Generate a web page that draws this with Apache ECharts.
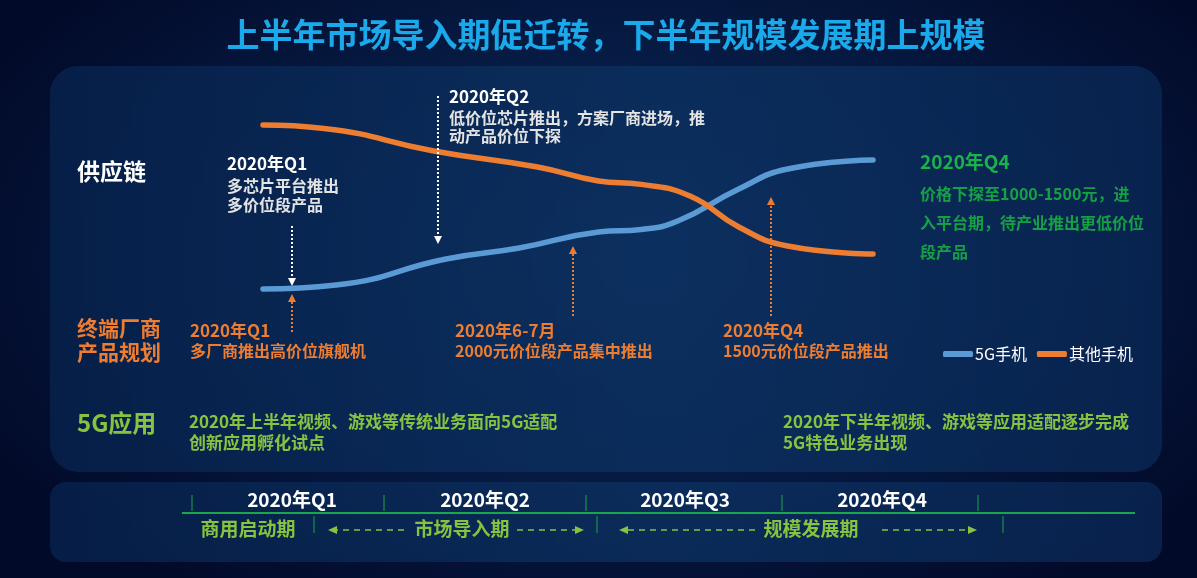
<!DOCTYPE html>
<html>
<head>
<meta charset="utf-8">
<script src="https://cdn.jsdelivr.net/npm/echarts@6/dist/echarts.min.js"></script>
<style>
  html, body { margin: 0; padding: 0; }
  body {
    width: 1197px; height: 578px; overflow: hidden;
    background: radial-gradient(ellipse 60% 70% at 52% 45%, #0b2b59 0%, #061a42 55%, #020a29 100%);
  }
  #chart { width: 1197px; height: 578px; }
</style>
</head>
<body>
<div id="chart"></div>
<script>
  // 曲线数据（横轴：时间进度 0-100，纵轴：相对份额 0-100）
  const seriesNames = ['5G手机', '其他手机']
  const phone5gX = [0, 12, 30, 42, 55, 62, 68, 78, 86, 100]
  const phone5gY = [5.5, 7.5, 20.5, 26, 34, 35.3, 39.5, 55.5, 65.5, 70]
  const otherX = [0, 10, 28, 45, 55, 62, 70, 78, 86, 100]
  const otherY = [87.5, 85.8, 74.5, 66.5, 59.5, 57.8, 52, 36.5, 27, 23]

  // 时间轴
  const quarterLabels = ['2020年Q1', '2020年Q2', '2020年Q3', '2020年Q4']
  const stageLabels = ['商用启动期', '市场导入期', '规模发展期']

  const FONT = '"Noto Sans CJK SC", "Noto Sans", sans-serif'
  const BLUE = '#5b9bd5'
  const ORANGE = '#ed7d31'
  const GREEN = '#86c440'

  function txt(x, y, text, color, size, align, weight) {
    return {
      type: 'text', x: x, y: y, z: 10,
      style: {
        text: text, fill: color, align: align || 'left', verticalAlign: 'middle',
        fontSize: size, fontWeight: weight || 'bold', fontFamily: FONT
      }
    }
  }

  // 竖直点线箭头
  function vArrow(x, y1, y2, color) {
    let dir = y2 > y1 ? 1 : -1
    return [
      {
        type: 'line', z: 5,
        shape: { x1: x, y1: y1, x2: x, y2: y2 - dir * 6 },
        style: { stroke: color, lineWidth: 2, lineDash: [2, 2] }
      },
      {
        type: 'polygon', z: 5,
        shape: { points: [[x - 4, y2 - dir * 8], [x + 4, y2 - dir * 8], [x, y2]] },
        style: { fill: color }
      }
    ]
  }

  // 水平虚线箭头
  function hArrow(x1, x2, y, color) {
    let dir = x2 > x1 ? 1 : -1
    return [
      {
        type: 'line', z: 5,
        shape: { x1: x1, y1: y, x2: x2 - dir * 6, y2: y },
        style: { stroke: color, lineWidth: 1.5, lineDash: [6, 5] }
      },
      {
        type: 'polygon', z: 5,
        shape: { points: [[x2 - dir * 9, y - 4], [x2 - dir * 9, y + 4], [x2, y]] },
        style: { fill: color }
      }
    ]
  }

  function vTick(x, y1, y2) {
    return {
      type: 'line', z: 5,
      shape: { x1: x, y1: y1, x2: x, y2: y2 },
      style: { stroke: '#1aa64a', lineWidth: 1 }
    }
  }

  let panelFill = function () {
    return new echarts.graphic.LinearGradient(0, 0, 1, 0, [
      { offset: 0, color: 'rgba(7,34,76,0.85)' },
      { offset: 0.55, color: 'rgba(13,50,98,0.75)' },
      { offset: 1, color: 'rgba(9,38,82,0.85)' }
    ])
  }

  let graphics = [
    // 主面板
    {
      type: 'rect', z: -10,
      shape: { x: 50, y: 66, width: 1112, height: 406, r: 28 },
      style: { fill: panelFill() }
    },
    // 底部时间轴面板
    {
      type: 'rect', z: -10,
      shape: { x: 50, y: 482, width: 1112, height: 80, r: 16 },
      style: { fill: panelFill() }
    },
    // 标题
    {
      type: 'text', x: 606, y: 34, z: 10,
      style: {
        text: '上半年市场导入期促迁转，下半年规模发展期上规模',
        fill: '#1aa9ea', align: 'center', verticalAlign: 'middle',
        fontSize: 33, fontWeight: 'bold', fontFamily: FONT,
        textShadowColor: 'rgba(0,0,0,0.6)', textShadowOffsetX: 2, textShadowOffsetY: 2
      }
    },

    // 左侧分类
    txt(77, 171, '供应链', '#ffffff', 23),
    txt(77, 328, '终端厂商', ORANGE, 21),
    txt(77, 352, '产品规划', ORANGE, 21),
    txt(77, 423, '5G应用', GREEN, 24),

    // 供应链
    txt(227, 164, '2020年Q1', '#ffffff', 17),
    txt(227, 186, '多芯片平台推出', '#e4e4e4', 16),
    txt(227, 205, '多价位段产品', '#e4e4e4', 16),
    txt(449, 97, '2020年Q2', '#ffffff', 17),
    txt(449, 118, '低价位芯片推出，方案厂商进场，推', '#e4e4e4', 16),
    txt(449, 136, '动产品价位下探', '#e4e4e4', 16),
    txt(920, 162, '2020年Q4', '#19b24b', 19),
    txt(920, 194, '价格下探至1000-1500元，进', '#16a046', 16),
    txt(920, 223, '入平台期，待产业推出更低价位', '#16a046', 16),
    txt(920, 252, '段产品', '#16a046', 16),

    // 终端厂商产品规划
    txt(190, 331, '2020年Q1', ORANGE, 17),
    txt(190, 351, '多厂商推出高价位旗舰机', ORANGE, 16),
    txt(455, 331, '2020年6-7月', ORANGE, 17),
    txt(455, 351, '2000元价位段产品集中推出', ORANGE, 16),
    txt(723, 331, '2020年Q4', ORANGE, 17),
    txt(723, 351, '1500元价位段产品推出', ORANGE, 16),

    // 5G应用
    txt(189, 422, '2020年上半年视频、游戏等传统业务面向5G适配', GREEN, 17),
    txt(189, 443, '创新应用孵化试点', GREEN, 17),
    txt(783, 422, '2020年下半年视频、游戏等应用适配逐步完成', GREEN, 17),
    txt(783, 443, '5G特色业务出现', GREEN, 17),

    // 时间轴
    {
      type: 'line', z: 5,
      shape: { x1: 182, y1: 513, x2: 1135, y2: 513 },
      style: { stroke: '#1aa64a', lineWidth: 2 }
    },
    vTick(192, 495, 511), vTick(384, 495, 511), vTick(586, 495, 511),
    vTick(782, 495, 511), vTick(978, 495, 511),
    vTick(314, 516, 533), vTick(597, 516, 533), vTick(1003, 516, 533),
    txt(292, 500, quarterLabels[0], '#ffffff', 19, 'center'),
    txt(485, 500, quarterLabels[1], '#ffffff', 19, 'center'),
    txt(685, 500, quarterLabels[2], '#ffffff', 19, 'center'),
    txt(882, 500, quarterLabels[3], '#ffffff', 19, 'center'),
    txt(248, 529, stageLabels[0], GREEN, 19, 'center'),
    txt(462, 529, stageLabels[1], GREEN, 19, 'center'),
    txt(811, 529, stageLabels[2], GREEN, 19, 'center')
  ]

  graphics = graphics.concat(
    vArrow(292, 226, 286, '#ffffff'),
    vArrow(438, 96, 244, '#ffffff'),
    vArrow(292, 332, 294, ORANGE),
    vArrow(573, 316, 246, ORANGE),
    vArrow(771, 316, 197, ORANGE),
    hArrow(404, 328, 530, GREEN),
    hArrow(517, 584, 530, GREEN),
    hArrow(755, 619, 530, GREEN),
    hArrow(882, 977, 530, GREEN)
  )

  let chart = echarts.init(document.getElementById('chart'), null, { renderer: 'canvas' })
  let option = {
    backgroundColor: 'transparent',
    animation: false,
    legend: {
      left: 938, top: 341,
      itemWidth: 30, itemHeight: 6, itemGap: 10,
      icon: 'roundRect',
      data: seriesNames,
      textStyle: { color: '#ffffff', fontSize: 16, fontFamily: FONT, padding: [0, 0, 0, -3] }
    },
    grid: { left: 263, right: 324, top: 100, height: 200 },
    xAxis: { type: 'value', min: 0, max: 100, show: false },
    yAxis: { type: 'value', min: 0, max: 100, show: false },
    graphic: graphics,
    series: [
      {
        name: seriesNames[0], type: 'line', smooth: 0.5,
        symbol: 'none', color: BLUE,
        lineStyle: { width: 5.5, color: BLUE, cap: 'round', join: 'round' },
        data: phone5gX.map((x, i) => [x, phone5gY[i]])
      },
      {
        name: seriesNames[1], type: 'line', smooth: 0.5,
        symbol: 'none', color: ORANGE,
        lineStyle: { width: 5.5, color: ORANGE, cap: 'round', join: 'round' },
        data: otherX.map((x, i) => [x, otherY[i]])
      }
    ]
  }
  chart.setOption(option)
</script>
</body>
</html>
